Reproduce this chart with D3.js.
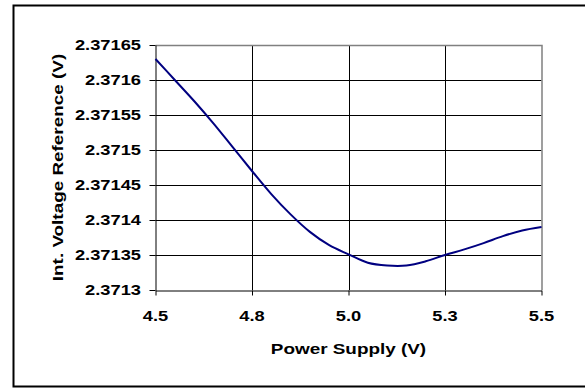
<!DOCTYPE html>
<html>
<head>
<meta charset="utf-8">
<script src="https://cdn.jsdelivr.net/npm/d3@7"></script>
<style>
  html, body { margin: 0; padding: 0; background: #fff; }
  svg { display: block; }
  text { font-family: "Liberation Sans", Arial, sans-serif; font-weight: bold; fill: #000; }
</style>
</head>
<body>
<svg id="chart" width="585" height="388"></svg>
<script>
// Internal voltage reference vs. power supply
const supply = [4.50, 4.55, 4.60, 4.65, 4.70, 4.75, 4.80, 4.85, 4.90, 4.95, 5.00,
                5.05, 5.10, 5.15, 5.20, 5.25, 5.30, 5.35, 5.40, 5.45, 5.50];
const vref = [2.371630, 2.371600, 2.371570, 2.371538, 2.371504, 2.371470, 2.371437,
              2.371408, 2.371383, 2.371364, 2.371351, 2.371339, 2.371335, 2.371335,
              2.371341, 2.371350, 2.371358, 2.371367, 2.371377, 2.371385, 2.371390];

const xTicks = [4.5, 4.75, 5.0, 5.25, 5.5];
const xTickLabels = ["4.5", "4.8", "5.0", "5.3", "5.5"];
const yTicks = [2.3713, 2.37135, 2.3714, 2.37145, 2.3715, 2.37155, 2.3716, 2.37165];
const yTickLabels = ["2.3713", "2.37135", "2.3714", "2.37145", "2.3715", "2.37155", "2.3716", "2.37165"];

const xTitle = "Power Supply (V)";
const yTitle = "Int. Voltage Reference (V)";

const svg = d3.select("#chart");
const plot = { left: 155.5, right: 541.5, top: 45, bottom: 290 };
const tickStretch = 1.22;  // wide lettering for tick labels
const titleStretch = 1.22; // wide lettering for axis titles

const x = d3.scaleLinear().domain([4.5, 5.5]).range([plot.left, plot.right]);
const y = d3.scaleLinear().domain([2.3713, 2.37165]).range([plot.bottom, plot.top]);

// outer frame
svg.append("rect")
  .attr("x", 13.5).attr("y", 5.5)
  .attr("width", 574).attr("height", 381)
  .attr("fill", "none").attr("stroke", "#000").attr("stroke-width", 2);

// gridlines
const grid = svg.append("g");
grid.selectAll("line.h").data(yTicks.slice(1, -1)).join("line")
  .attr("x1", plot.left).attr("x2", plot.right)
  .attr("y1", d => Math.round(y(d)) + 0.5).attr("y2", d => Math.round(y(d)) + 0.5)
  .attr("stroke", "#000").attr("stroke-width", 1);
grid.selectAll("line.v").data(xTicks.slice(1, -1)).join("line")
  .attr("x1", d => Math.round(x(d)) + 0.5).attr("x2", d => Math.round(x(d)) + 0.5)
  .attr("y1", plot.top).attr("y2", plot.bottom)
  .attr("stroke", "#000").attr("stroke-width", 1);

// plot area border (top/right)
svg.append("path")
  .attr("d", `M${plot.left},${plot.top + 0.5}H${plot.right + 0.5}V${plot.bottom}`)
  .attr("fill", "none").attr("stroke", "#808080").attr("stroke-width", 1.5);

// axes: lines and tick marks from d3.axis, labels drawn below
const xAxis = d3.axisBottom(x).tickValues(xTicks).tickFormat("").tickSize(5).tickSizeOuter(0);
const yAxis = d3.axisLeft(y).tickValues(yTicks).tickFormat("").tickSize(6).tickSizeOuter(0);

const gx = svg.append("g").attr("transform", `translate(0,${plot.bottom + 0.5})`).call(xAxis);
const gy = svg.append("g").attr("transform", `translate(${plot.left},0)`).call(yAxis);

[gx, gy].forEach(g => {
  g.select(".domain").attr("stroke", "#000").attr("stroke-width", 1);
  g.selectAll(".tick line").attr("stroke", "#000");
  g.selectAll(".tick text").remove();
});

// tick labels
svg.append("g").selectAll("text").data(xTicks).join("text")
  .attr("transform", d => `translate(${x(d)},${plot.bottom + 31}) scale(${tickStretch},1)`)
  .attr("text-anchor", "middle")
  .attr("font-size", 15)
  .text((d, i) => xTickLabels[i]);

svg.append("g").selectAll("text").data(yTicks).join("text")
  .attr("transform", d => `translate(${plot.left - 14.5},${y(d)}) scale(${tickStretch},1)`)
  .attr("text-anchor", "end")
  .attr("dy", "0.36em")
  .attr("font-size", 15)
  .text((d, i) => yTickLabels[i]);

// series line
const line = d3.line()
  .x((d, i) => x(supply[i]))
  .y(d => y(d))
  .curve(d3.curveCatmullRom.alpha(0.5));

svg.append("path")
  .datum(vref)
  .attr("d", line)
  .attr("fill", "none")
  .attr("stroke", "#000080")
  .attr("stroke-width", 2);

// axis titles
svg.append("text")
  .attr("transform", `translate(${(plot.left + plot.right) / 2},353.5) scale(${titleStretch},1)`)
  .attr("text-anchor", "middle")
  .attr("font-size", 15.5)
  .text(xTitle);

svg.append("text")
  .attr("transform", `translate(62.5,${(plot.top + plot.bottom) / 2}) rotate(-90) scale(${titleStretch},1)`)
  .attr("text-anchor", "middle")
  .attr("font-size", 15.5)
  .text(yTitle);
</script>
</body>
</html>
